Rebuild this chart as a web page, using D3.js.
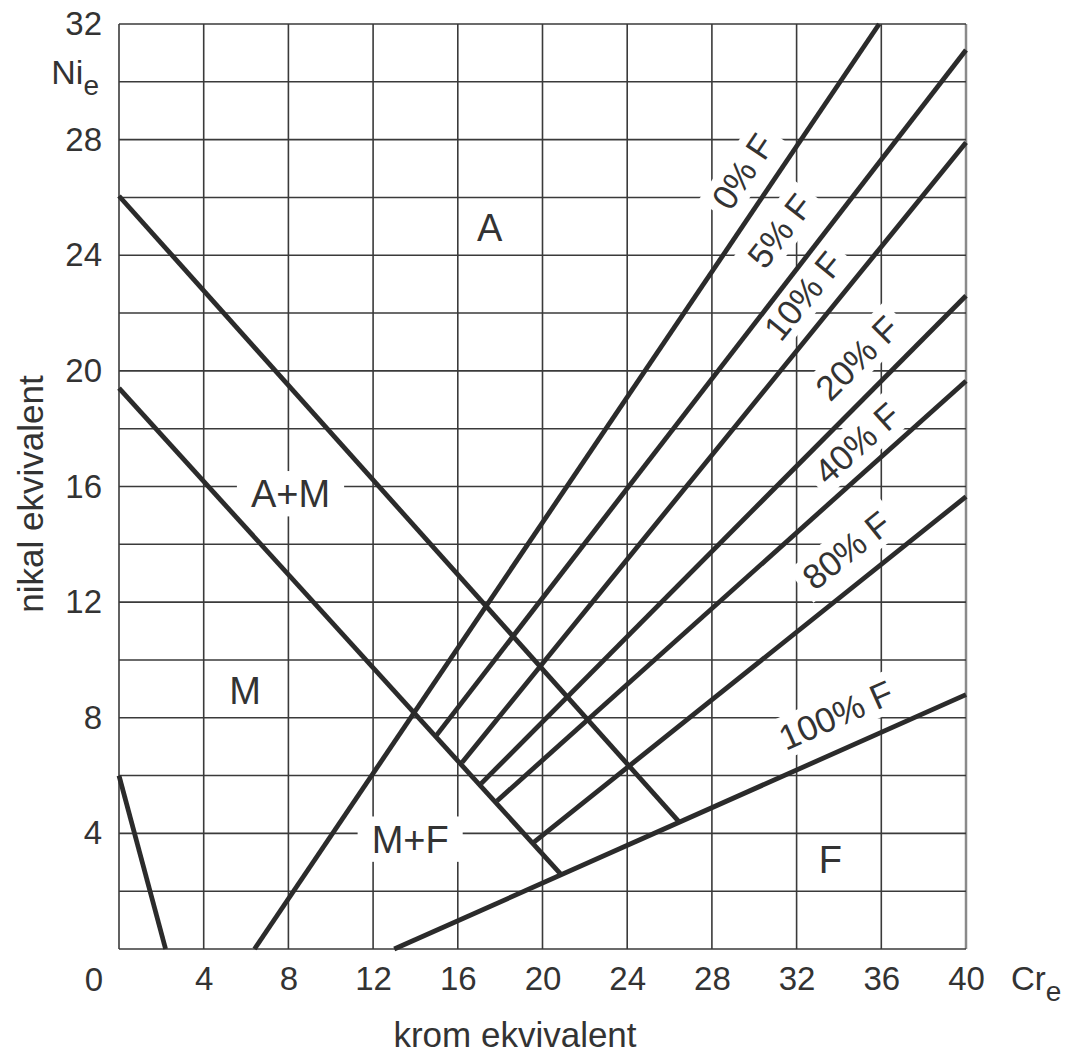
<!DOCTYPE html>
<html>
<head>
<meta charset="utf-8">
<script src="https://d3js.org/d3.v7.min.js"></script>
<style>
  body { margin: 0; background: #fff; }
  svg { display: block; }
  text { font-family: "Liberation Sans", Arial, sans-serif; fill: #333; }
</style>
</head>
<body>
<svg></svg>
<script>
// tick values
var crTicks = [0, 4, 8, 12, 16, 20, 24, 28, 32, 36, 40];
var niGrid = [0, 2, 4, 6, 8, 10, 12, 14, 16, 18, 20, 22, 24, 26, 28, 30, 32];
var niLabels = [4, 8, 12, 16, 20, 24, 28, 32];

// ferrite lines (Cr_e, Ni_e) start / end
var ferriteNames = ["0% F", "5% F", "10% F", "20% F", "40% F", "80% F", "100% F"];
var ferriteStart = [[6.4, 0], [15.0, 7.4], [16.2, 6.45], [17.1, 5.72], [17.85, 5.12], [19.6, 3.7], [13.0, 0]];
var ferriteEnd = [[35.9, 32], [40, 31.1], [40, 27.9], [40, 22.6], [40, 19.65], [40, 15.65], [40, 8.8]];
// where each ferrite label sits (Cr_e, Ni_e)
var ferriteLabelAt = [[29.45, 26.9], [31.2, 24.85], [32.3, 22.6], [34.85, 20.45], [34.85, 17.5], [34.35, 13.8], [33.85, 8.1]];

// other boundary lines
var boundaryLines = [
  [[0, 26.05], [26.45, 4.4]],   // A / A+M
  [[0, 19.4], [20.85, 2.6]],    // A+M / M
  [[0, 6.0], [2.2, 0]]          // M corner
];

// phase regions
var regionNames = ["A", "A+M", "M", "M+F", "F"];
var regionAt = [[17.5, 24.95], [8.1, 15.75], [5.95, 8.95], [13.75, 3.8], [33.6, 3.1]];

var W = 1075, H = 1055;
var svg = d3.select("svg").attr("width", W).attr("height", H);

var x = d3.scaleLinear().domain([0, 40]).range([119, 966]);
var y = d3.scaleLinear().domain([0, 32]).range([949, 24]);

// grid
var grid = svg.append("g");
grid.selectAll(".v").data(crTicks).enter().append("line")
    .attr("x1", function (d) { return x(d); })
    .attr("x2", function (d) { return x(d); })
    .attr("y1", y(0)).attr("y2", y(32))
    .attr("stroke", function (d) { return d === 40 ? "#8a8a8a" : "#3a3a3a"; })
    .attr("stroke-width", function (d) { return d === 40 ? 2.5 : 1.6; });
grid.selectAll(".h").data(niGrid).enter().append("line")
    .attr("y1", function (d) { return y(d); })
    .attr("y2", function (d) { return y(d); })
    .attr("x1", x(0)).attr("x2", x(40))
    .attr("stroke", "#3a3a3a")
    .attr("stroke-width", 1.6);

// tick labels
var xAxis = svg.append("g")
    .attr("transform", "translate(0," + y(0) + ")")
    .call(d3.axisBottom(x).tickValues(crTicks.slice(1)).tickSize(0).tickPadding(18));
xAxis.select(".domain").remove();
xAxis.selectAll("text").attr("font-size", 33).attr("fill", "#333")
    .attr("font-family", "Liberation Sans, Arial, sans-serif");

var yAxis = svg.append("g")
    .attr("transform", "translate(" + x(0) + ",0)")
    .call(d3.axisLeft(y).tickValues(niLabels).tickSize(0).tickPadding(17));
yAxis.select(".domain").remove();
yAxis.selectAll("text").attr("font-size", 33).attr("fill", "#333")
    .attr("font-family", "Liberation Sans, Arial, sans-serif");

svg.append("text").attr("x", x(0) - 25).attr("y", 991)
    .attr("text-anchor", "middle").attr("font-size", 33).text("0");

// axis symbols
var ni = svg.append("text").attr("x", 99).attr("y", 84)
    .attr("text-anchor", "end").attr("font-size", 34);
ni.append("tspan").text("Ni");
ni.append("tspan").attr("dy", 11).attr("font-size", 28).text("e");

var cr = svg.append("text").attr("x", 1011).attr("y", 990).attr("font-size", 33);
cr.append("tspan").text("Cr");
cr.append("tspan").attr("dy", 11).attr("font-size", 28).text("e");

svg.append("text").attr("x", 515).attr("y", 1047)
    .attr("text-anchor", "middle").attr("font-size", 35).text("krom ekvivalent");
svg.append("text").attr("transform", "translate(43,494) rotate(-90)")
    .attr("text-anchor", "middle").attr("font-size", 35).text("nikal ekvivalent");

// label backgrounds go above the grid, lines above them
var bgLayer = svg.append("g");
var lineLayer = svg.append("g");
var textLayer = svg.append("g");

var line = d3.line().x(function (d) { return x(d[0]); }).y(function (d) { return y(d[1]); });

lineLayer.selectAll(".b").data(boundaryLines).enter().append("path")
    .attr("d", line).attr("fill", "none")
    .attr("stroke", "#2b2b2b").attr("stroke-width", 4.8);

var ferriteData = ferriteNames.map(function (n, i) {
  return { name: n, pts: [ferriteStart[i], ferriteEnd[i]], at: ferriteLabelAt[i] };
});

lineLayer.selectAll(".f").data(ferriteData).enter().append("path")
    .attr("d", function (d) { return line(d.pts); }).attr("fill", "none")
    .attr("stroke", "#2b2b2b").attr("stroke-width", 4.8);

// text centred on (cx, cy); white box masks the grid behind it
function addLabel(txt, cx, cy, angle, size, padX, padY) {
  var tr = "translate(" + cx + "," + cy + ") rotate(" + (-angle) + ")";
  var t = textLayer.append("g").attr("transform", tr)
      .append("text").attr("text-anchor", "middle").attr("dy", "0.36em")
      .attr("font-size", size).text(txt);
  var w = t.node().getBBox().width;
  var capH = 0.72 * size;
  bgLayer.append("rect").attr("transform", tr)
      .attr("x", -w / 2 - padX).attr("y", -capH / 2 - padY)
      .attr("width", w + 2 * padX).attr("height", capH + 2 * padY)
      .attr("fill", "#fff");
}

ferriteData.forEach(function (d) {
  var dx = x(d.pts[1][0]) - x(d.pts[0][0]);
  var dy = y(d.pts[0][1]) - y(d.pts[1][1]);
  var ang = Math.atan2(dy, dx) * 180 / Math.PI;
  addLabel(d.name, x(d.at[0]), y(d.at[1]), ang, 35, 8, 8);
});

regionNames.forEach(function (n, i) {
  addLabel(n, x(regionAt[i][0]), y(regionAt[i][1]), 0, 38, 14, 9);
});
</script>
</body>
</html>
